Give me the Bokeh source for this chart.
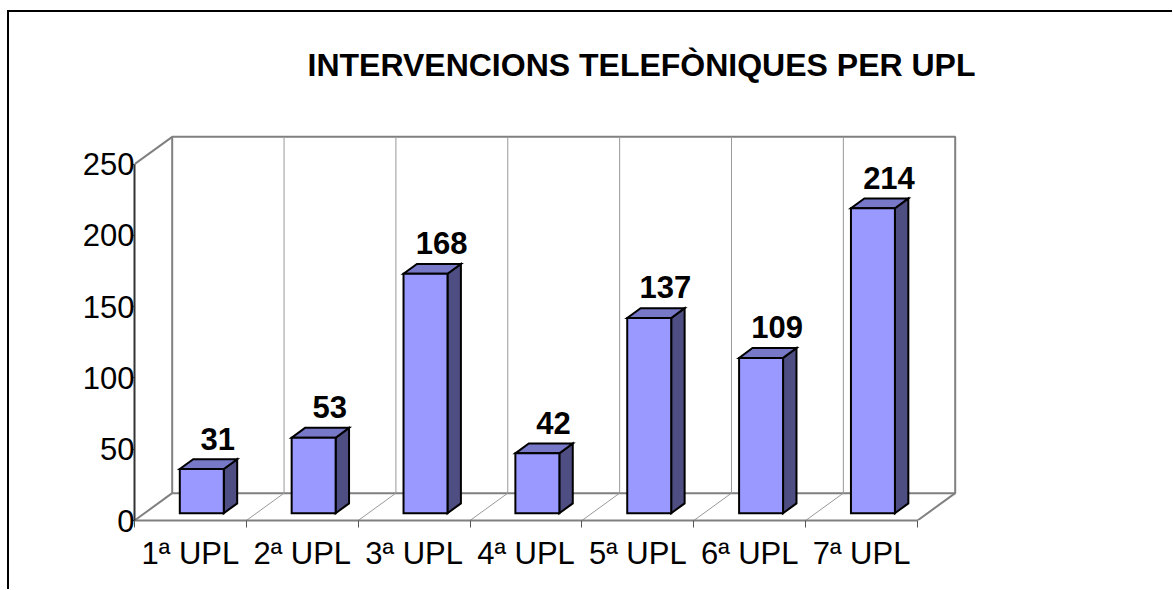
from bokeh.plotting import figure
from bokeh.models import Range1d, LinearAxis, FixedTicker
from bokeh.layouts import column
from bokeh.embed import file_html
from bokeh.resources import INLINE
from bokeh.core.properties import value

# ---- data ----
title_text = "INTERVENCIONS TELEFÒNIQUES PER UPL"
categories = ["1ª UPL", "2ª UPL", "3ª UPL", "4ª UPL", "5ª UPL", "6ª UPL", "7ª UPL"]
values = [31, 53, 168, 42, 137, 109, 214]
y_ticks = [0, 50, 100, 150, 200, 250]
y_max = 250

# ---- style / 3D geometry (data units) ----
FONT = "Liberation Sans"
DX, DY = 0.337, 19.2          # depth of the back wall
BX0, BW = 0.405, 0.393        # front face left offset and width within a category
FY = 5.1                      # front face base lift due to depth
SDX, SDY = 0.12, 6.9          # bar depth
LX, LY = 0.745, 26.5          # data label offsets
FRONT, TOP, SIDE = "#9999FF", "#7878C8", "#4E4E82"
WALL = "#808080"

W, H = 1163, 577
p = figure(width=W, height=H, output_backend="svg", toolbar_location=None,
           x_range=Range1d(0, 9.065), y_range=Range1d(0, 298.2),
           x_axis_type=None, y_axis_type=None,
           min_border_left=125, min_border_right=24,
           min_border_top=83, min_border_bottom=69)
p.grid.visible = False
p.outline_line_color = None
p.background_fill_color = "white"
p.border_fill_color = "white"

p.title.text = title_text
p.title.align = "center"
p.title.text_font = FONT
p.title.text_font_size = "32px"
p.title.text_font_style = "bold"
p.title.text_color = "black"
p.title.standoff = 26

n = len(categories)

# back wall and floor
p.multi_line(xs=[[DX, DX, n + DX, n + DX, DX]], ys=[[DY, y_max + DY, y_max + DY, DY, DY]],
             line_color=WALL, line_width=2)
p.multi_line(xs=[[0, DX], [0, DX], [n, n + DX]], ys=[[0, DY], [y_max, y_max + DY], [0, DY]],
             line_color=WALL, line_width=2)
p.multi_line(xs=[[k + DX, k + DX] for k in range(1, n)],
             ys=[[DY, y_max + DY] for k in range(1, n)],
             line_color="#999999", line_width=1)
p.multi_line(xs=[[k, k + DX] for k in range(1, n)],
             ys=[[0, DY] for k in range(1, n)],
             line_color="#999999", line_width=1)

# bars
fx, fy, tx, ty, sx, sy = [], [], [], [], [], []
for k, v in enumerate(values):
    x0 = k + BX0
    x1 = x0 + BW
    fx.append([x0, x1, x1, x0]); fy.append([FY, FY, v + FY, v + FY])
    tx.append([x0, x1, x1 + SDX, x0 + SDX]); ty.append([v + FY, v + FY, v + FY + SDY, v + FY + SDY])
    sx.append([x1, x1 + SDX, x1 + SDX, x1]); sy.append([FY, FY + SDY, v + FY + SDY, v + FY])
p.patches(xs=sx, ys=sy, fill_color=SIDE, line_color="black", line_width=2, line_join="miter")
p.patches(xs=tx, ys=ty, fill_color=TOP, line_color="black", line_width=2, line_join="miter")
p.patches(xs=fx, ys=fy, fill_color=FRONT, line_color="black", line_width=2, line_join="miter")

# data labels
p.text(x=[k + LX for k in range(n)], y=[v + LY for v in values], text=[str(v) for v in values],
       text_align="center", text_baseline="alphabetic", text_font=value(FONT),
       text_font_style="bold", text_font_size="31px", text_color="black")

# axes
yax = LinearAxis(ticker=FixedTicker(ticks=y_ticks), bounds=(0, y_max),
                 axis_line_color="#333333", axis_line_width=2,
                 major_tick_out=3, major_tick_in=0, minor_tick_out=0, minor_tick_in=0,
                 major_tick_line_color="#333333", major_tick_line_width=1,
                 major_label_text_font=FONT, major_label_text_font_size="31px",
                 major_label_text_color="black", major_label_standoff=-3)
p.add_layout(yax, "left")

centers = [k + 0.5 for k in range(n)]
xax = LinearAxis(ticker=FixedTicker(ticks=centers, minor_ticks=list(range(n + 1))), bounds=(0, n),
                 axis_line_color=WALL, axis_line_width=2,
                 major_tick_out=0, major_tick_in=0, minor_tick_out=7, minor_tick_in=0,
                 minor_tick_line_color="#555555", minor_tick_line_width=1,
                 major_label_overrides={c: lab for c, lab in zip(centers, categories)},
                 major_label_text_font=FONT, major_label_text_font_size="31px",
                 major_label_text_color="black", major_label_standoff=8)
p.add_layout(xax, "below")

layout = column(p, styles={"border-top": "2px solid black", "border-left": "2px solid black",
                           "margin-top": "10px", "margin-left": "7px"})

open("out.html", "w").write(file_html(layout, INLINE))
